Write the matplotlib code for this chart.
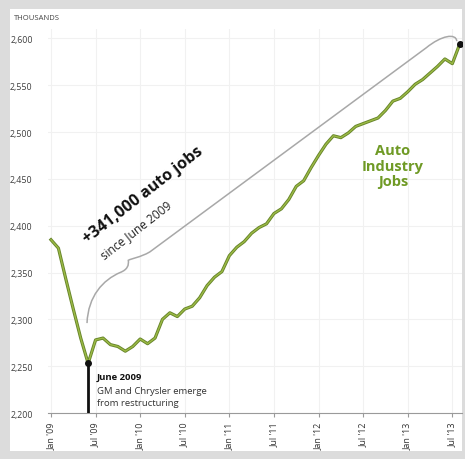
import numpy as np
import matplotlib.pyplot as plt
import matplotlib.patheffects as pe
from matplotlib.path import Path
from matplotlib.patches import PathPatch, Rectangle

plt.rcParams['font.family'] = ['Open Sans', 'DejaVu Sans']

# monthly auto industry jobs (thousands), Jan 2009 .. Aug 2013
months = np.arange(56)
jobs = [2385, 2376, 2343, 2311, 2280, 2253, 2278, 2280, 2273, 2271,
        2266, 2271, 2279, 2274, 2280, 2300, 2307, 2303, 2311, 2314,
        2323, 2336, 2345, 2351, 2368, 2377, 2383, 2392, 2398, 2402,
        2413, 2418, 2428, 2442, 2448, 2462, 2475, 2487, 2496, 2494,
        2499, 2506, 2509, 2512, 2515, 2523, 2533, 2536, 2543, 2551,
        2556, 2563, 2570, 2578, 2573, 2594]
tick_months = [0, 6, 12, 18, 24, 30, 36, 42, 48, 54]
tick_labels = ["Jan '09", "Jul '09", "Jan '10", "Jul '10", "Jan '11",
               "Jul '11", "Jan '12", "Jul '12", "Jan '13", "Jul '13"]
y_ticks = [2200, 2250, 2300, 2350, 2400, 2450, 2500, 2550, 2600]
june_idx = 5

W, H = 465, 460
fig = plt.figure(figsize=(W/100, H/100), dpi=100)
fig.patch.set_facecolor('#dcdcdc')
fig.patches.append(Rectangle((10/W, 8/H), (462-10)/W, (450-8)/H,
                             transform=fig.transFigure, facecolor='white',
                             edgecolor='none', zorder=-10))

ax = fig.add_axes([48/W, (H-414)/H, (462-48)/W, (414-30)/H])
ax.set_facecolor('none')
ax.set_xlim(-0.4, 55.3)
ax.set_ylim(2200, 2610)

for s in ['top', 'right', 'left']:
    ax.spines[s].set_visible(False)
ax.spines['bottom'].set_color('#9a9a9a')
ax.spines['bottom'].set_linewidth(0.8)

ax.set_yticks(y_ticks)
ax.set_yticklabels([f"{v:,}" for v in y_ticks], fontsize=6.4, color='#404040')
ax.tick_params(axis='y', length=0, pad=11)
ax.set_xticks(tick_months)
ax.set_xticklabels(tick_labels, rotation=90, fontsize=6.4, color='#333333')
ax.tick_params(axis='x', length=3, color='#9a9a9a', pad=3)
ax.grid(True, color='#f1f1f1', linewidth=0.8)
ax.set_axisbelow(True)

ax.plot(months, jobs, color='#9cba45', lw=1.0, solid_joinstyle='round',
        path_effects=[pe.Stroke(linewidth=2.3, foreground='#66842a'), pe.Normal()],
        zorder=3)

# June 2009 marker and final point
ax.plot([months[june_idx]] * 2, [2200, jobs[june_idx]], color='#111111', lw=2, zorder=4)
ax.plot(months[june_idx], jobs[june_idx], 'o', color='#111111', ms=4, zorder=5)
ax.plot(months[-1], jobs[-1], 'o', color='#111111', ms=4, zorder=5)

# brace from June 2009 to latest month
verts = [(4.85, 2296),
         (5.0, 2325), (7.0, 2342), (9.3, 2350),
         (10.3, 2353), (10.5, 2358), (10.4, 2363),
         (10.8, 2365), (12.0, 2366), (13.3, 2372),
         (50.5, 2590),
         (52.5, 2603), (54.5, 2606), (54.6, 2597)]
codes = [Path.MOVETO] + [Path.CURVE4] * 9 + [Path.LINETO] + [Path.CURVE4] * 3
ax.add_patch(PathPatch(Path(verts, codes), facecolor='none',
                       edgecolor='#a8a8a8', lw=1.1, zorder=2))

ax.text(12.4, 2434, "+341,000 auto jobs", rotation=38, fontsize=11.5,
        fontweight='bold', color='#111111', ha='center', va='center')
ax.text(11.5, 2396, "since June 2009", rotation=38, fontsize=8.6,
        color='#222222', ha='center', va='center')

ax.text(46.0, 2464, "Auto\nIndustry\nJobs", fontsize=10.5, fontweight='bold',
        color='#6f9a25', ha='center', va='center', linespacing=1.15)

ax.text(6.2, 2239, "June 2009", fontsize=6.8, fontweight='bold',
        color='#111111', ha='left', va='center')
ax.text(6.2, 2218, "GM and Chrysler emerge\nfrom restructuring", fontsize=6.8,
        color='#333333', ha='left', va='center', linespacing=1.4)

fig.text(14/W, 1 - 18/H, "THOUSANDS", fontsize=5.5, color='#444444',
         ha='left', va='center')

fig.savefig('out.png', dpi=100, facecolor=fig.get_facecolor())
